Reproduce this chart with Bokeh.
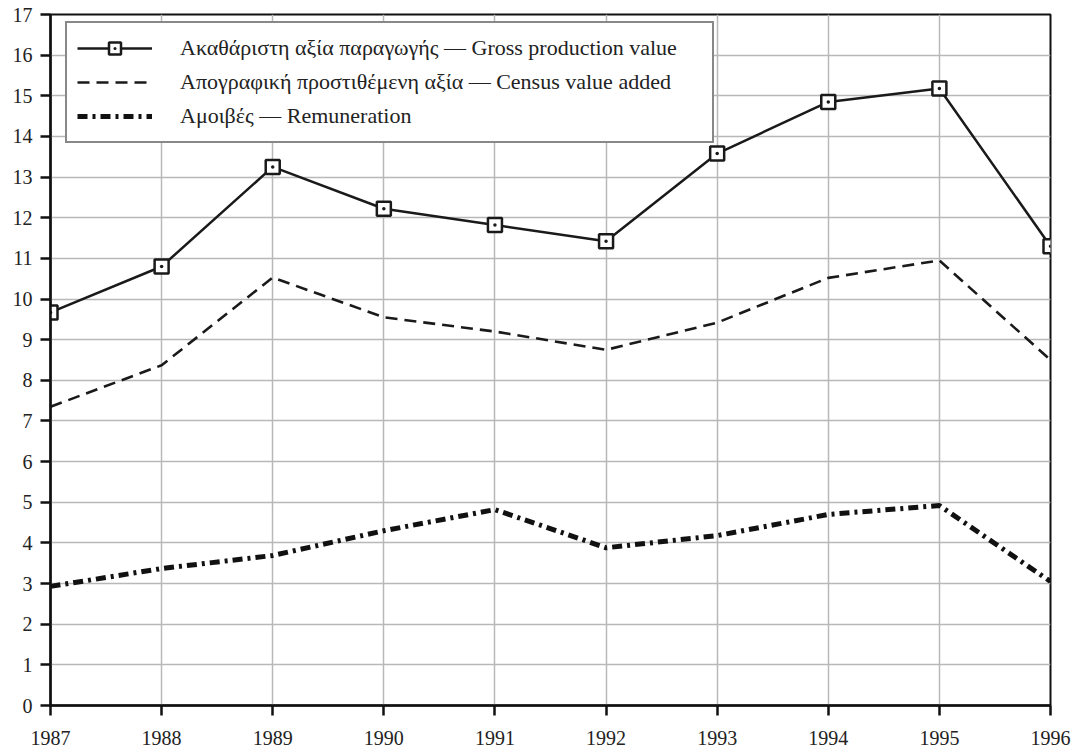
from bokeh.plotting import figure
from bokeh.models import Range1d, FixedTicker, Legend, LegendItem
from bokeh.embed import file_html
from bokeh.resources import INLINE

years = [1987, 1988, 1989, 1990, 1991, 1992, 1993, 1994, 1995, 1996]
gross = [9.67, 10.8, 13.25, 12.22, 11.82, 11.42, 13.58, 14.85, 15.18, 11.3]
value_added = [7.35, 8.37, 10.53, 9.55, 9.2, 8.75, 9.42, 10.52, 10.95, 8.5]
remuneration = [2.93, 3.37, 3.69, 4.3, 4.82, 3.88, 4.18, 4.7, 4.92, 3.05]

labels = [
    "Ακαθάριστη αξία παραγωγής — Gross production value",
    "Απογραφική προστιθέμενη αξία — Census value added",
    "Αμοιβές — Remuneration",
]
y_ticks = list(range(0, 18))

FONT = "Liberation Serif"

p = figure(width=1074, height=750, output_backend="svg", toolbar_location=None,
           x_range=Range1d(1987, 1996), y_range=Range1d(0, 17),
           min_border_left=50, min_border_right=24, min_border_top=14, min_border_bottom=45)
p.background_fill_color = "white"
p.border_fill_color = "white"
p.outline_line_color = "#111111"
p.outline_line_width = 2

for ax in (p.xaxis, p.yaxis):
    ax.axis_line_width = 2.5
    ax.axis_line_color = "#111111"
    ax.major_tick_line_width = 2.5
    ax.major_tick_line_color = "#111111"
    ax.major_tick_out = 10
    ax.major_tick_in = 0
    ax.minor_tick_line_color = None
    ax.major_label_text_font = FONT
    ax.major_label_text_font_size = "20px"
    ax.major_label_text_color = "#222222"
p.xaxis.ticker = FixedTicker(ticks=years)
p.yaxis.ticker = FixedTicker(ticks=y_ticks)
p.xaxis.major_label_standoff = 15
p.yaxis.major_label_standoff = 8

p.xgrid.ticker = FixedTicker(ticks=years)
p.ygrid.ticker = FixedTicker(ticks=y_ticks)
for g in (p.xgrid, p.ygrid):
    g.grid_line_color = "#b8b8b8"
    g.grid_line_width = 1.5

l1 = p.line(years, gross, line_color="#1a1a1a", line_width=2.5)
s1 = p.scatter(years, gross, marker="square_dot", size=14, fill_color="white",
               line_color="#1a1a1a", line_width=2.5)
l2 = p.line(years, value_added, line_color="#1a1a1a", line_width=2.6, line_dash="12 7")
l3 = p.line(years, remuneration, line_color="#111111", line_width=5, line_dash="10 5 3 5")

legend = Legend(items=[LegendItem(label=labels[0], renderers=[l1, s1]),
                       LegendItem(label=labels[1], renderers=[l2]),
                       LegendItem(label=labels[2], renderers=[l3])],
                location=(15, 562))
legend.label_text_font = FONT
legend.label_text_font_size = "22px"
legend.label_text_color = "#222222"
legend.glyph_width = 75
legend.glyph_height = 30
legend.label_height = 30
legend.label_width = 522
legend.label_standoff = 28
legend.spacing = 4
legend.padding = 10
legend.margin = 0
legend.border_line_color = "#111111"
legend.border_line_width = 2.5
legend.background_fill_color = "white"
legend.background_fill_alpha = 1
p.add_layout(legend)

open("out.html", "w").write(file_html(p, INLINE))
